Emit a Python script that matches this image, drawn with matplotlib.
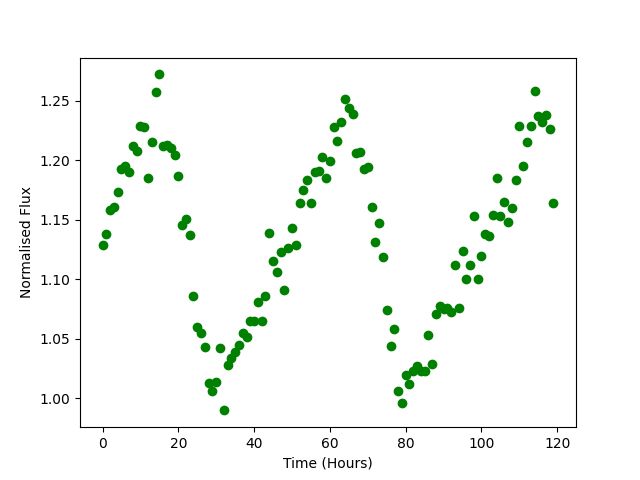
import matplotlib
matplotlib.use('Agg')
import matplotlib.pyplot as plt

# time in hours, one reading per hour
hours = list(range(120))

flux = [
    1.129, 1.138, 1.158, 1.161, 1.173, 1.193, 1.195, 1.190, 1.212, 1.208,
    1.229, 1.228, 1.185, 1.215, 1.257, 1.272, 1.212, 1.213, 1.210, 1.204,
    1.187, 1.146, 1.151, 1.137, 1.086, 1.060, 1.055, 1.043, 1.013, 1.006,
    1.014, 1.042, 0.990, 1.028, 1.034, 1.039, 1.045, 1.055, 1.052, 1.065,
    1.065, 1.081, 1.065, 1.086, 1.139, 1.115, 1.106, 1.123, 1.091, 1.126,
    1.143, 1.129, 1.164, 1.175, 1.183, 1.164, 1.190, 1.191, 1.203, 1.185,
    1.199, 1.228, 1.216, 1.232, 1.251, 1.244, 1.239, 1.206, 1.207, 1.193,
    1.194, 1.161, 1.131, 1.147, 1.119, 1.074, 1.044, 1.058, 1.006, 0.996,
    1.020, 1.012, 1.023, 1.027, 1.023, 1.023, 1.053, 1.029, 1.071, 1.078,
    1.075, 1.076, 1.073, 1.112, 1.076, 1.124, 1.100, 1.112, 1.153, 1.100,
    1.120, 1.138, 1.136, 1.154, 1.185, 1.153, 1.165, 1.148, 1.160, 1.183,
    1.229, 1.195, 1.215, 1.229, 1.258, 1.237, 1.232, 1.238, 1.226, 1.164,
]


def main():
    fig, ax = plt.subplots(figsize=(6.4, 4.8), dpi=100)
    ax.plot(hours, flux, 'o', color='green')
    ax.set_xlabel('Time (Hours)')
    ax.set_ylabel('Normalised Flux')
    fig.savefig('out.png')


if __name__ == '__main__':
    main()
